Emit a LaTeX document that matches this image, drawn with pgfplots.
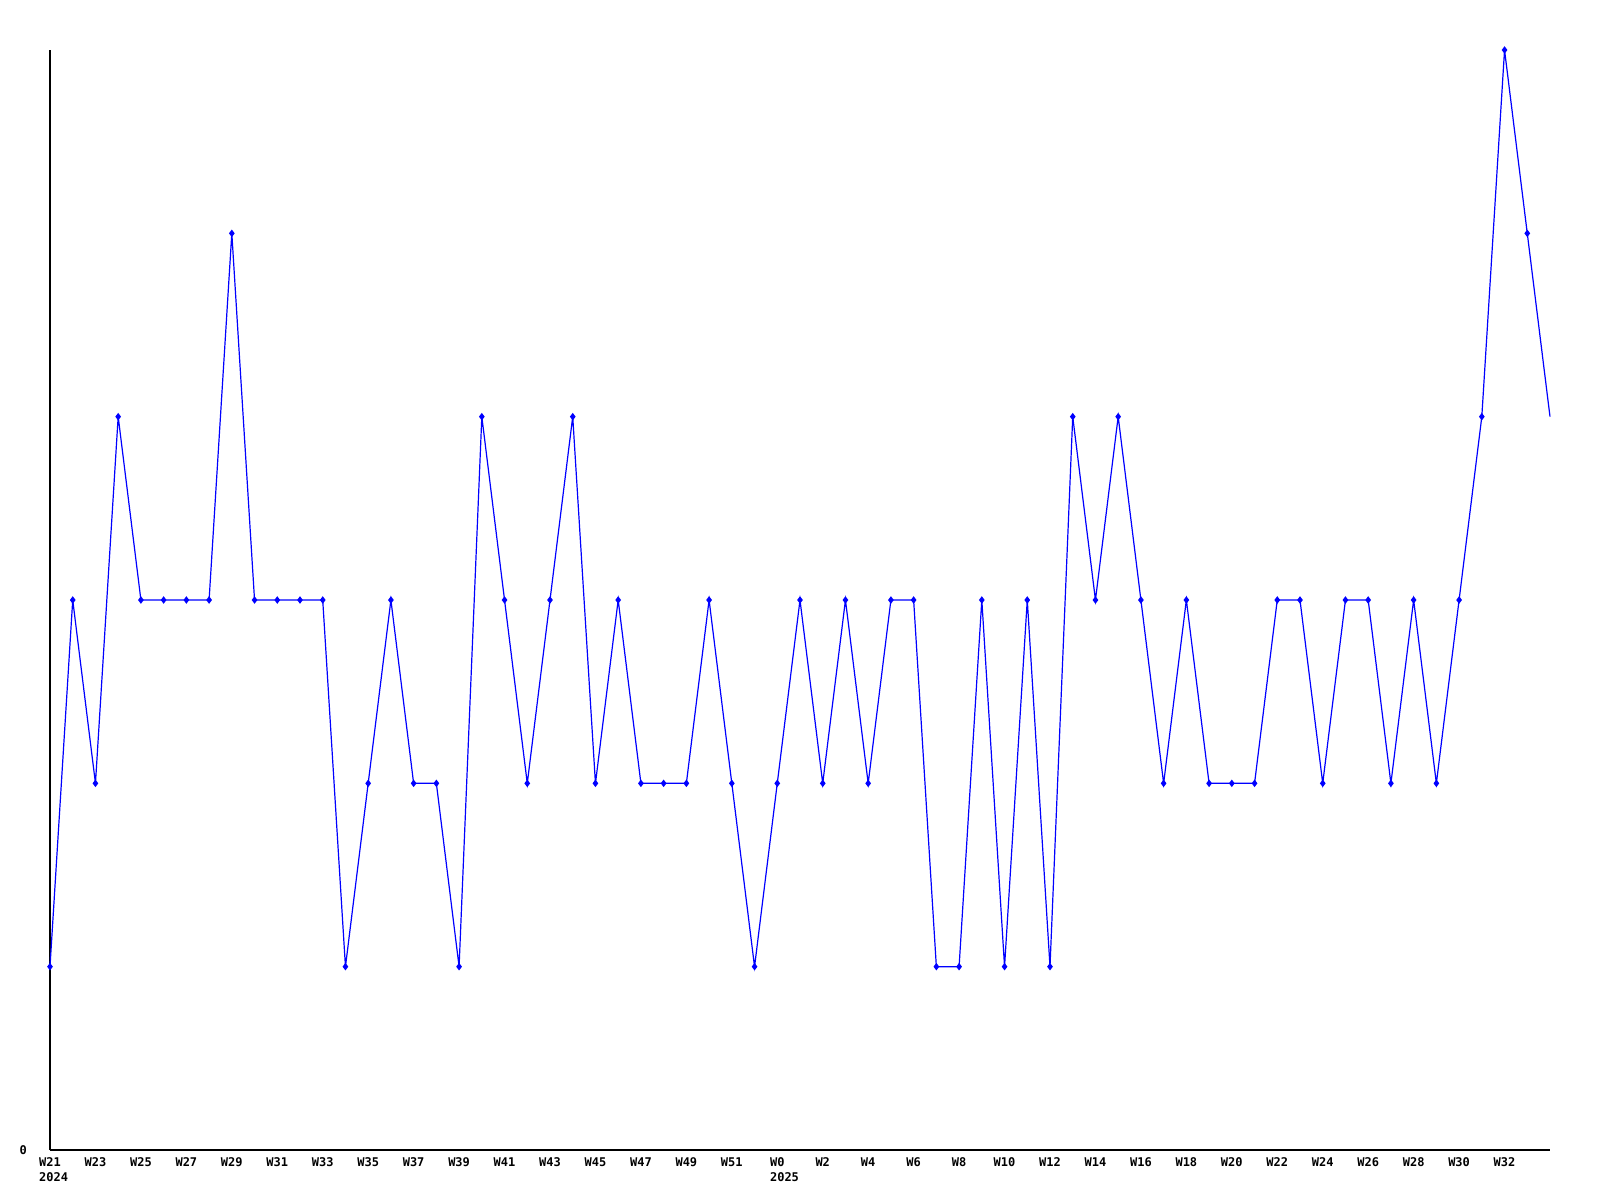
\documentclass[border=0pt]{standalone}
\usepackage{pgfplots}
\pgfplotsset{compat=1.18}
\usepackage{fontspec}
\setmainfont{DejaVu Sans Mono}
\begin{document}
\begin{tikzpicture}
\begin{axis}[
  scale only axis,
  width=750pt, height=550pt,
  xmin=0, xmax=66, ymin=0, ymax=6,
  axis x line*=bottom, axis y line*=left,
  axis line style={black, line width=1pt, -},
  major tick length=0pt,
  ytick={0}, yticklabels={0},
  xtick={0,2,...,64},
  xticklabels={{W21\\\rlap{2024}},W23,W25,W27,W29,W31,W33,W35,W37,W39,W41,W43,W45,W47,W49,W51,{W0\\\rlap{2025}},W2,W4,W6,W8,W10,W12,W14,W16,W18,W20,W22,W24,W26,W28,W30,W32},
  xticklabel style={font=\fontsize{6}{7.5}\selectfont\bfseries, align=left, anchor=north, yshift=-0.5pt},
  yticklabel style={font=\fontsize{6}{7.5}\selectfont\bfseries, xshift=-8pt},
  /pgf/number format/assume math mode=true,
  clip=false,
]
\addplot[color={rgb,255:red,0;green,0;blue,255}, line width=0.6pt, mark=diamond*, mark size=1.4pt, mark indices={1,...,66}] coordinates {
(0,1)(1,3)(2,2)(3,4)(4,3)(5,3)(6,3)(7,3)(8,5)(9,3)(10,3)(11,3)(12,3)(13,1)(14,2)(15,3)(16,2)(17,2)(18,1)(19,4)(20,3)(21,2)(22,3)(23,4)(24,2)(25,3)(26,2)(27,2)(28,2)(29,3)(30,2)(31,1)
(32,2)(33,3)(34,2)(35,3)(36,2)(37,3)(38,3)(39,1)(40,1)(41,3)(42,1)(43,3)(44,1)(45,4)(46,3)(47,4)(48,3)(49,2)(50,3)(51,2)(52,2)(53,2)(54,3)(55,3)(56,2)(57,3)(58,3)(59,2)(60,3)(61,2)(62,3)(63,4)(64,6)(65,5)(66,4)
};
\end{axis}
\pgfresetboundingbox
\path[use as bounding box] (-25pt,-25pt) rectangle (775pt,575pt);
\end{tikzpicture}
\end{document}
